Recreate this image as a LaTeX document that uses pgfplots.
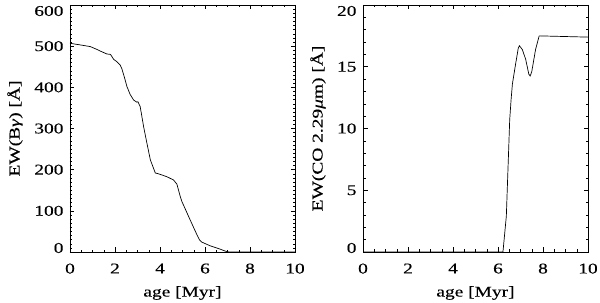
\documentclass[border=0pt]{standalone}
\usepackage{fontspec}
\setmainfont{Liberation Serif}[FakeStretch=1.3, FakeBold=0.3]
\usepackage{pgfplots}
\pgfplotsset{compat=1.18}
\newcommand{\dn}[1]{\raisebox{-6bp}[\height][\depth]{#1}}
\newcommand{\up}[1]{\raisebox{4bp}[\height][\depth]{#1}}
\begin{document}
\begin{tikzpicture}
\path[use as bounding box] (-70bp,-51bp) rectangle (530bp,252bp);
\pgfplotsset{
  every axis/.append style={
    scale only axis, width=225bp, height=247bp,
    xmin=0, xmax=10, xtick={0,2,...,10}, minor x tick num=3,
    tick align=inside, major tick length=4.5bp, minor tick length=2.5bp,
    axis line style={line width=0.7pt}, tick style={line width=0.5pt, black},
    /pgf/number format/assume math mode=true,
    tick label style={font=\fontsize{15}{15}\selectfont},
    label style={font=\fontsize{15}{15}\selectfont},
    xlabel={age [Myr]},
    xlabel style={at={(axis description cs:0.5,0)}, anchor=center, yshift=-41bp},
    ylabel style={at={(axis description cs:0,0.5)}, anchor=center},
    xticklabel style={yshift=-8bp},
    yticklabel style={xshift=-3bp},
  }
}
\begin{axis}[
  at={(0bp,0bp)}, anchor=south west,
  ymin=0, ymax=600, ytick={0,100,...,600}, minor y tick num=9,
  yticklabels={\up{0},100,200,300,400,500,\dn{600}},
  ylabel={EW(B\textit{γ}) [Å]},
  ylabel style={yshift=55bp},
]
\addplot[black, line width=0.7pt] coordinates {
(0,507) (0.46,503) (0.9,499) (1.2,492) (1.35,488) (1.64,481) (1.8,480)
(1.94,468) (2.09,462) (2.23,454) (2.3,446) (2.41,426) (2.53,402) (2.67,383)
(2.83,369) (2.97,364) (3.02,365) (3.12,353) (3.27,305) (3.42,264) (3.57,224)
(3.68,208) (3.79,192) (3.93,190) (4.3,183) (4.6,175) (4.75,165) (4.9,135)
(4.97,123) (5.34,78) (5.64,42) (5.75,30) (5.86,24) (6.23,15) (6.67,7)
(6.97,0.8) (7.1,0) (10,0)
};
\end{axis}
\begin{axis}[
  at={(293bp,0bp)}, anchor=south west,
  ymin=0, ymax=20, ytick={0,5,...,20}, minor y tick num=4,
  yticklabels={\up{0},5,10,15,\dn{20}},
  ylabel={EW(CO 2.29\textit{μ}m) [Å]},
  ylabel style={yshift=45bp},
]
\addplot[black, line width=0.7pt] coordinates {
(0,0) (6.22,0) (6.37,2.9) (6.52,10.7) (6.58,12.3) (6.64,13.6) (6.78,15.2)
(6.9,16.5) (6.95,16.7) (7.08,16.4) (7.23,15.6) (7.37,14.4) (7.43,14.25)
(7.5,14.6) (7.67,16.4) (7.83,17.5) (10,17.4)
};
\end{axis}
\end{tikzpicture}
\end{document}
